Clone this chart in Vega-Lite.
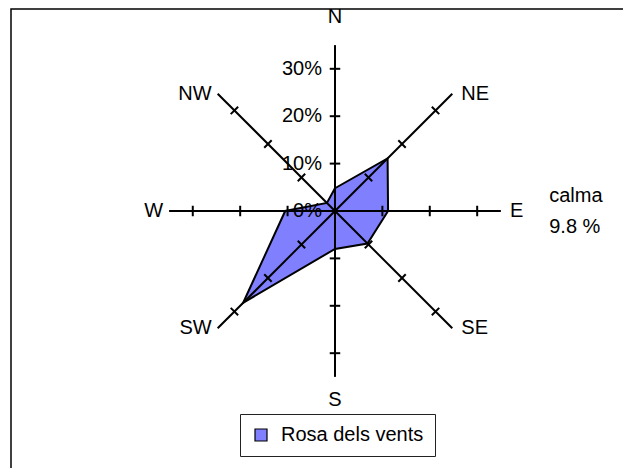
{
  "$schema": "https://vega.github.io/schema/vega-lite/v6.json",
  "width": 618,
  "height": 465,
  "autosize": {"type": "none"},
  "padding": {"left": 11, "top": 9, "right": -6, "bottom": -6},
  "background": "white",
  "config": {
    "font": "Liberation Sans",
    "view": {"stroke": "#000", "strokeWidth": 1.5},
    "text": {"fontSize": 20, "color": "#000", "font": "Liberation Sans"},
    "legend": {
      "orient": "none",
      "legendX": 229,
      "legendY": 405,
      "padding": 11,
      "strokeColor": "#222",
      "fillColor": "white",
      "symbolType": "square",
      "symbolSize": 144,
      "symbolStrokeColor": "#000",
      "symbolStrokeWidth": 1.2,
      "symbolFillColor": "#8080FF",
      "symbolOpacity": 1,
      "labelFont": "Liberation Sans",
      "labelFontSize": 20,
      "labelColor": "#000",
      "labelOffset": 10,
      "labelLimit": 300
    }
  },
  "datasets": {
    "dirs": [
      {"dir": "N", "angle": 0, "freq": 0.048},
      {"dir": "NE", "angle": 45, "freq": 0.157},
      {"dir": "E", "angle": 90, "freq": 0.112},
      {"dir": "SE", "angle": 135, "freq": 0.097},
      {"dir": "S", "angle": 180, "freq": 0.080},
      {"dir": "SW", "angle": 225, "freq": 0.274},
      {"dir": "W", "angle": 270, "freq": 0.105},
      {"dir": "NW", "angle": 315, "freq": 0.024}
    ],
    "ticks": [
      {"angle": 0, "r": 0.1}, {"angle": 0, "r": 0.2}, {"angle": 0, "r": 0.3},
      {"angle": 45, "r": 0.1}, {"angle": 45, "r": 0.2}, {"angle": 45, "r": 0.3},
      {"angle": 90, "r": 0.1}, {"angle": 90, "r": 0.2}, {"angle": 90, "r": 0.3},
      {"angle": 135, "r": 0.1}, {"angle": 135, "r": 0.2}, {"angle": 135, "r": 0.3},
      {"angle": 180, "r": 0.1}, {"angle": 180, "r": 0.2}, {"angle": 180, "r": 0.3},
      {"angle": 225, "r": 0.1}, {"angle": 225, "r": 0.2}, {"angle": 225, "r": 0.3},
      {"angle": 270, "r": 0.1}, {"angle": 270, "r": 0.2}, {"angle": 270, "r": 0.3},
      {"angle": 315, "r": 0.1}, {"angle": 315, "r": 0.2}, {"angle": 315, "r": 0.3}
    ],
    "pcts": [{"r": 0}, {"r": 0.1}, {"r": 0.2}, {"r": 0.3}]
  },
  "layer": [
    {
      "data": {"name": "dirs"},
      "transform": [
        {"calculate": "datum.freq * sin(datum.angle * PI / 180)", "as": "px"},
        {"calculate": "datum.freq * cos(datum.angle * PI / 180)", "as": "py"}
      ],
      "mark": {"type": "line", "interpolate": "linear-closed", "stroke": "#000", "strokeWidth": 2, "strokeJoin": "miter"},
      "encoding": {
        "x": {"field": "px", "type": "quantitative", "scale": {"domain": [-0.6835, 0.6203], "nice": false, "zero": false}, "axis": null},
        "y": {"field": "py", "type": "quantitative", "scale": {"domain": [-0.5549, 0.4262], "nice": false, "zero": false}, "axis": null},
        "order": {"field": "angle", "type": "quantitative"},
        "fill": {"datum": "Rosa dels vents", "type": "nominal", "scale": {"range": ["#8080FF"]}, "legend": {"title": null, "symbolType": "square"}}
      }
    },
    {
      "data": {"name": "dirs"},
      "transform": [
        {"calculate": "0.35 * sin(datum.angle * PI / 180)", "as": "ex"},
        {"calculate": "0.35 * cos(datum.angle * PI / 180)", "as": "ey"}
      ],
      "mark": {"type": "rule", "color": "#000", "strokeWidth": 2},
      "encoding": {
        "x": {"field": "ex", "type": "quantitative"},
        "y": {"field": "ey", "type": "quantitative"},
        "x2": {"datum": 0},
        "y2": {"datum": 0}
      }
    },
    {
      "data": {"name": "ticks"},
      "transform": [
        {"calculate": "datum.r * sin(datum.angle * PI / 180)", "as": "tx"},
        {"calculate": "datum.r * cos(datum.angle * PI / 180)", "as": "ty"}
      ],
      "mark": {"type": "point", "shape": "stroke", "size": 110, "stroke": "#000", "strokeWidth": 2, "filled": false, "opacity": 1},
      "encoding": {
        "x": {"field": "tx", "type": "quantitative"},
        "y": {"field": "ty", "type": "quantitative"},
        "angle": {"field": "angle", "type": "quantitative", "scale": null}
      }
    },
    {
      "data": {"name": "pcts"},
      "mark": {"type": "text", "align": "right", "baseline": "middle", "dx": -13},
      "encoding": {
        "x": {"datum": 0, "type": "quantitative"},
        "y": {"field": "r", "type": "quantitative"},
        "text": {"field": "r", "type": "quantitative", "format": ".0%"}
      }
    },
    {
      "data": {"name": "dirs"},
      "transform": [
        {"filter": "datum.dir == 'NE' || datum.dir == 'E' || datum.dir == 'SE'"},
        {"calculate": "0.35 * sin(datum.angle * PI / 180)", "as": "lx"},
        {"calculate": "0.35 * cos(datum.angle * PI / 180)", "as": "ly"}
      ],
      "mark": {"type": "text", "align": "left", "baseline": "middle", "dx": 9},
      "encoding": {
        "x": {"field": "lx", "type": "quantitative"},
        "y": {"field": "ly", "type": "quantitative"},
        "text": {"field": "dir"}
      }
    },
    {
      "data": {"name": "dirs"},
      "transform": [
        {"filter": "datum.dir == 'NW' || datum.dir == 'W' || datum.dir == 'SW'"},
        {"calculate": "0.35 * sin(datum.angle * PI / 180)", "as": "lx"},
        {"calculate": "0.35 * cos(datum.angle * PI / 180)", "as": "ly"}
      ],
      "mark": {"type": "text", "align": "right", "baseline": "middle", "dx": -6},
      "encoding": {
        "x": {"field": "lx", "type": "quantitative"},
        "y": {"field": "ly", "type": "quantitative"},
        "text": {"field": "dir"}
      }
    },
    {
      "data": {"name": "dirs"},
      "transform": [
        {"filter": "datum.dir == 'N'"},
        {"calculate": "0.35 * cos(datum.angle * PI / 180)", "as": "ly"}
      ],
      "mark": {"type": "text", "align": "center", "baseline": "alphabetic", "dy": -22},
      "encoding": {
        "x": {"datum": 0, "type": "quantitative"},
        "y": {"field": "ly", "type": "quantitative"},
        "text": {"field": "dir"}
      }
    },
    {
      "data": {"name": "dirs"},
      "transform": [
        {"filter": "datum.dir == 'S'"},
        {"calculate": "0.35 * cos(datum.angle * PI / 180)", "as": "ly"}
      ],
      "mark": {"type": "text", "align": "center", "baseline": "alphabetic", "dy": 29},
      "encoding": {
        "x": {"datum": 0, "type": "quantitative"},
        "y": {"field": "ly", "type": "quantitative"},
        "text": {"field": "dir"}
      }
    },
    {
      "data": {"values": [{"calm": 0.098}]},
      "mark": {"type": "text", "align": "left", "baseline": "middle", "lineHeight": 31, "dy": -15},
      "encoding": {
        "x": {"datum": 0.452, "type": "quantitative"},
        "y": {"datum": 0, "type": "quantitative"},
        "text": {"value": ["calma", "9.8 %"]}
      }
    }
  ]
}
